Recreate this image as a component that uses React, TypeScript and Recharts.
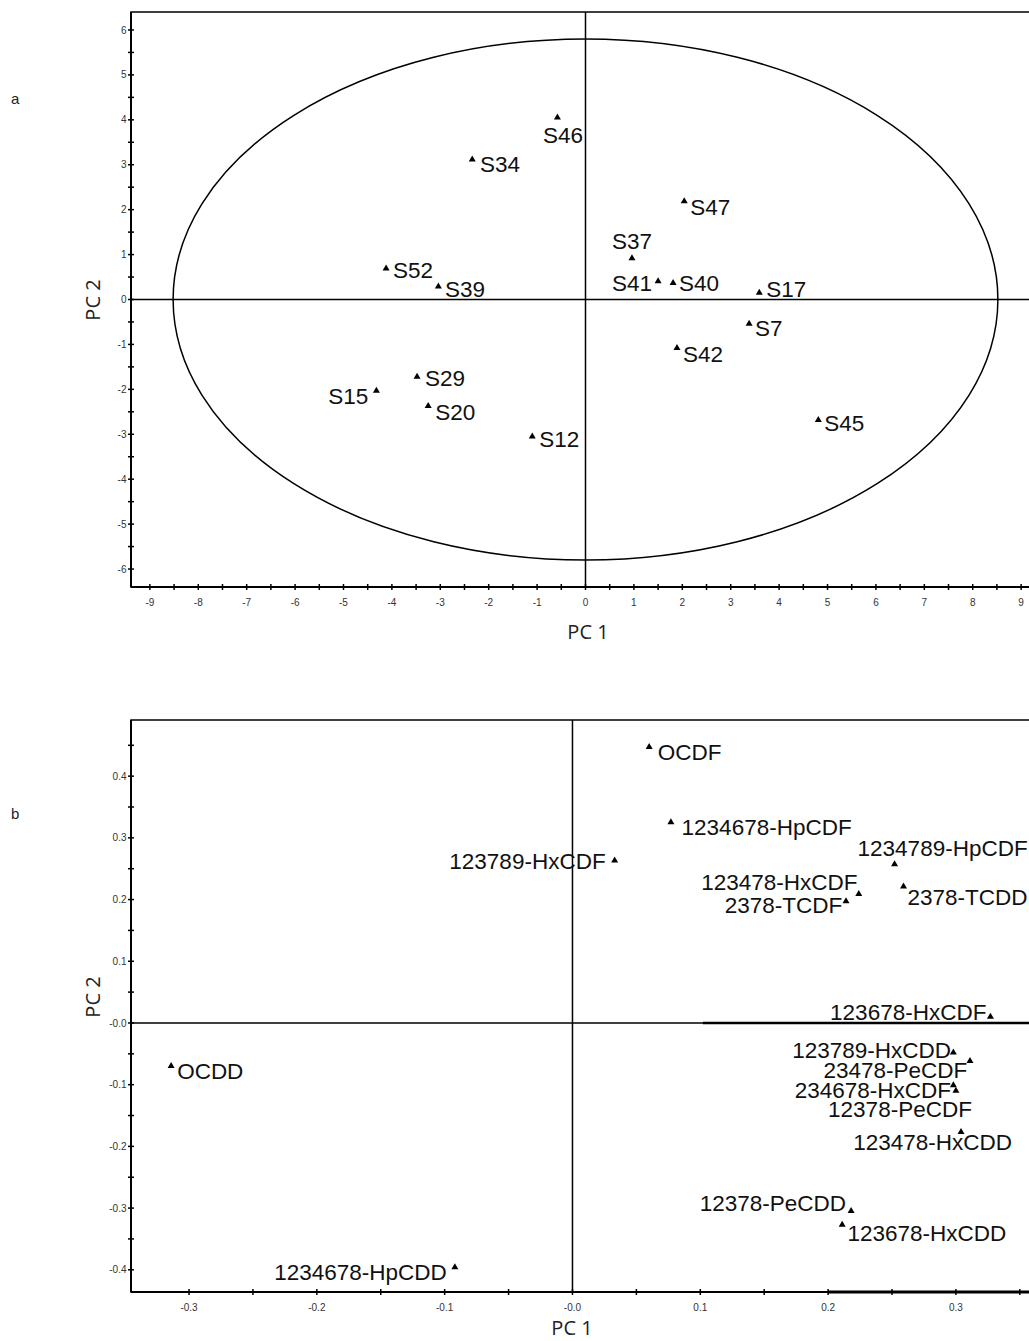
import { ReferenceArea, ReferenceLine, Scatter, ScatterChart, XAxis, YAxis } from "recharts";

// ---- panel a: sample scores ----
const sampleNames = ["S46", "S34", "S47", "S37", "S52", "S39", "S41", "S40", "S17", "S7", "S42", "S29", "S15", "S20", "S12", "S45"];
const samplePc1 = [-0.58, -2.34, 2.04, 0.96, -4.12, -3.04, 1.5, 1.81, 3.59, 3.38, 1.89, -3.48, -4.32, -3.25, -1.1, 4.81];
const samplePc2 = [4.06, 3.13, 2.2, 0.93, 0.7, 0.3, 0.42, 0.38, 0.16, -0.53, -1.07, -1.71, -2.02, -2.36, -3.04, -2.67];

// ---- panel b: congener loadings ----
const congenerNames = [
  "OCDF", "1234678-HpCDF", "123789-HxCDF", "1234789-HpCDF", "123478-HxCDF", "2378-TCDF", "2378-TCDD",
  "123678-HxCDF", "123789-HxCDD", "23478-PeCDF", "234678-HxCDF", "12378-PeCDF", "123478-HxCDD",
  "12378-PeCDD", "123678-HxCDD", "OCDD", "1234678-HpCDD",
];
const congenerPc1 = [0.06, 0.077, 0.033, 0.252, 0.224, 0.214, 0.259, 0.327, 0.298, 0.311, 0.298, 0.3, 0.304, 0.218, 0.211, -0.314, -0.092];
const congenerPc2 = [0.448, 0.326, 0.264, 0.258, 0.21, 0.198, 0.222, 0.011, -0.047, -0.061, -0.1, -0.109, -0.176, -0.304, -0.326, -0.069, -0.395];

// ---- ticks ----
const ticksA_x = [-9, -8.5, -8, -7.5, -7, -6.5, -6, -5.5, -5, -4.5, -4, -3.5, -3, -2.5, -2, -1.5, -1, -0.5, 0, 0.5, 1, 1.5, 2, 2.5, 3, 3.5, 4, 4.5, 5, 5.5, 6, 6.5, 7, 7.5, 8, 8.5, 9];
const ticksA_y = [-6, -5.5, -5, -4.5, -4, -3.5, -3, -2.5, -2, -1.5, -1, -0.5, 0, 0.5, 1, 1.5, 2, 2.5, 3, 3.5, 4, 4.5, 5, 5.5, 6];
const ticksB_x = [-0.3, -0.25, -0.2, -0.15, -0.1, -0.05, 0, 0.05, 0.1, 0.15, 0.2, 0.25, 0.3, 0.35];
const ticksB_y = [-0.4, -0.35, -0.3, -0.25, -0.2, -0.15, -0.1, -0.05, 0, 0.05, 0.1, 0.15, 0.2, 0.25, 0.3, 0.35, 0.4, 0.45];

// confidence ellipse half-axes (PC1, PC2)
const ellipseHalfAxes = [8.52, 5.8];

const samples = sampleNames.map((name, i) => ({ name, pc1: samplePc1[i], pc2: samplePc2[i] }));
const congeners = congenerNames.map((name, i) => ({ name, pc1: congenerPc1[i], pc2: congenerPc2[i] }));

type Anchor = "start" | "middle" | "end";
// label offsets from marker: dx, dy (to text centre), anchor
const placeA: Record<string, [number, number, Anchor]> = {
  S46: [5.7, 17.7, "middle"],
  S34: [7.7, 4.7, "start"],
  S47: [6, 6, "start"],
  S37: [0, -16.6, "middle"],
  S52: [7, 1.7, "start"],
  S39: [6.7, 2.6, "start"],
  S41: [-6, 2, "end"],
  S40: [6, 1, "start"],
  S17: [7, -3, "start"],
  S7: [6, 5, "start"],
  S42: [6, 6, "start"],
  S29: [8, 2, "start"],
  S15: [-8, 6, "end"],
  S20: [7, 6, "start"],
  S12: [7, 3, "start"],
  S45: [6, 4, "start"],
};
const placeB: Record<string, [number, number, Anchor]> = {
  OCDF: [8.7, 5, "start"],
  "1234678-HpCDF": [10.7, 5.3, "start"],
  "123789-HxCDF": [-9, 1, "end"],
  "1234789-HpCDF": [-37, -16, "start"],
  "123478-HxCDF": [-1.3, -11.6, "end"],
  "2378-TCDF": [-3.7, 4.3, "end"],
  "2378-TCDD": [4, 11, "start"],
  "123678-HxCDF": [-4, -4.3, "end"],
  "123789-HxCDD": [-2.3, -2.3, "end"],
  "23478-PeCDF": [-2.7, 9.3, "end"],
  "234678-HxCDF": [-2.3, 5, "end"],
  "12378-PeCDF": [16, 18.5, "end"],
  "123478-HxCDD": [51, 10.3, "end"],
  "12378-PeCDD": [-5, -7.7, "end"],
  "123678-HxCDD": [5.3, 8.7, "start"],
  OCDD: [6, 5.3, "start"],
  "1234678-HpCDD": [-8, 5, "end"],
};

const tickFont = '"Liberation Sans", Arial, sans-serif';

function makeMarker(place: Record<string, [number, number, Anchor]>) {
  return (props: any) => {
    const { cx, cy, payload } = props;
    const [dx, dy, anchor] = place[payload.name] ?? [7, 3, "start"];
    return (
      <g>
        <polygon points={`${cx},${cy - 3.5} ${cx - 3.5},${cy + 2.5} ${cx + 3.5},${cy + 2.5}`} fill="#000" />
        <text x={cx + dx} y={cy + dy + 8} textAnchor={anchor} fontSize={22.5} fontFamily={tickFont} fill="#111">
          {payload.name}
        </text>
      </g>
    );
  };
}

const fmtA = (v: number) => (Number.isInteger(v) ? String(v) : "");
const fmtB = (v: number) => {
  const t = Math.round(v * 100);
  if (t % 10 !== 0) return "";
  return t === 0 ? "-0.0" : v.toFixed(1);
};

function XTick(props: any) {
  const { x, y, payload, fmt } = props;
  const label = fmt(payload.value);
  return (
    <g>
      <line x1={x} x2={x} y1={y - 3} y2={y + 3} stroke="#000" strokeWidth={1.5} />
      {label && (
        <text x={x} y={y + 18.5} textAnchor="middle" fontSize={10} fontFamily={tickFont} fill="#333">
          {label}
        </text>
      )}
    </g>
  );
}

function YTick(props: any) {
  const { x, y, payload, fmt } = props;
  const label = fmt(payload.value);
  return (
    <g>
      <line x1={x - 3} x2={x + 3} y1={y} y2={y} stroke="#000" strokeWidth={1.5} />
      {label && (
        <text x={x - 4.5} y={y + 3.6} textAnchor="end" fontSize={10} fontFamily={tickFont} fill="#333">
          {label}
        </text>
      )}
    </g>
  );
}

const titleStyle: React.CSSProperties = {
  position: "absolute",
  fontFamily: '"Open Sans", sans-serif',
  fontSize: 20,
  color: "#222",
  whiteSpace: "nowrap",
  lineHeight: 1,
};

function EllipseShape(p: any) {
  return (
    <ellipse
      cx={p.x + p.width / 2}
      cy={p.y + p.height / 2}
      rx={Math.abs(p.width) / 2}
      ry={Math.abs(p.height) / 2}
      fill="none"
      stroke="#000"
      strokeWidth={1.5}
    />
  );
}

export default function App() {
  const [ax, ay] = ellipseHalfAxes;
  return (
    <div style={{ position: "relative", width: 1029, height: 1341, overflow: "hidden", background: "#fff" }}>
      <style>{"body{margin:0;overflow:hidden}"}</style>

      {/* panel a */}
      <div style={{ position: "absolute", left: 0, top: 0 }}>
        <ScatterChart width={1060} height={640} margin={{ top: 12, right: 20, bottom: 0, left: 0 }}>
          <XAxis
            type="number"
            dataKey="pc1"
            domain={[-9.39, 9.39]}
            allowDataOverflow
            ticks={ticksA_x}
            interval={0}
            height={53}
            tickSize={0}
            tickMargin={0}
            tickLine={false}
            axisLine={{ stroke: "#000", strokeWidth: 2 }}
            tick={(p: any) => <XTick {...p} fmt={fmtA} />}
          />
          <YAxis
            type="number"
            dataKey="pc2"
            domain={[-6.4, 6.4]}
            allowDataOverflow
            ticks={ticksA_y}
            interval={0}
            width={131}
            tickSize={0}
            tickMargin={0}
            tickLine={false}
            axisLine={{ stroke: "#000", strokeWidth: 2 }}
            tick={(p: any) => <YTick {...p} fmt={fmtA} />}
          />
          <ReferenceArea x1={-9.39} x2={9.39} y1={-6.4} y2={6.4} fill="none" stroke="#000" strokeWidth={1.5} fillOpacity={0} />
          <ReferenceArea x1={-ax} x2={ax} y1={-ay} y2={ay} shape={EllipseShape} />
          <ReferenceLine x={0} stroke="#000" strokeWidth={1.5} />
          <ReferenceLine y={0} stroke="#000" strokeWidth={1.5} />
          <Scatter data={samples} isAnimationActive={false} shape={makeMarker(placeA)} />
        </ScatterChart>
      </div>

      {/* panel b */}
      <div style={{ position: "absolute", left: 0, top: 700 }}>
        <ScatterChart width={1060} height={641} margin={{ top: 20, right: 21, bottom: 0, left: 0 }}>
          <XAxis
            type="number"
            dataKey="pc1"
            domain={[-0.3454, 0.365]}
            allowDataOverflow
            ticks={ticksB_x}
            interval={0}
            height={49}
            tickSize={0}
            tickMargin={0}
            tickLine={false}
            axisLine={{ stroke: "#000", strokeWidth: 2 }}
            tick={(p: any) => <XTick {...p} fmt={fmtB} />}
          />
          <YAxis
            type="number"
            dataKey="pc2"
            domain={[-0.436, 0.491]}
            allowDataOverflow
            ticks={ticksB_y}
            interval={0}
            width={131}
            tickSize={0}
            tickMargin={0}
            tickLine={false}
            axisLine={{ stroke: "#000", strokeWidth: 2 }}
            tick={(p: any) => <YTick {...p} fmt={fmtB} />}
          />
          <ReferenceArea x1={-0.3454} x2={0.365} y1={-0.436} y2={0.491} fill="none" stroke="#000" strokeWidth={1.5} fillOpacity={0} />
          <ReferenceLine x={0} stroke="#000" strokeWidth={1.5} />
          <ReferenceLine y={0} stroke="#000" strokeWidth={1.5} />
          <ReferenceLine segment={[{ x: 0.102, y: 0 }, { x: 0.365, y: 0 }]} stroke="#000" strokeWidth={2.5} />
          <ReferenceLine segment={[{ x: 0.2, y: -0.436 }, { x: 0.365, y: -0.436 }]} stroke="#000" strokeWidth={3} />
          <Scatter data={congeners} isAnimationActive={false} shape={makeMarker(placeB)} />
        </ScatterChart>
      </div>

      {/* panel letters and axis titles */}
      <div style={{ position: "absolute", left: 11, top: 90, fontFamily: tickFont, fontSize: 15, color: "#222" }}>a</div>
      <div style={{ position: "absolute", left: 11, top: 805, fontFamily: tickFont, fontSize: 15, color: "#222" }}>b</div>
      <div style={{ ...titleStyle, left: 588, top: 632, transform: "translate(-50%, -50%)" }}>PC 1</div>
      <div style={{ ...titleStyle, left: 93, top: 300, transform: "translate(-50%, -50%) rotate(-90deg)" }}>PC 2</div>
      <div style={{ ...titleStyle, left: 572, top: 1328, transform: "translate(-50%, -50%)" }}>PC 1</div>
      <div style={{ ...titleStyle, left: 93, top: 997, transform: "translate(-50%, -50%) rotate(-90deg)" }}>PC 2</div>
    </div>
  );
}
